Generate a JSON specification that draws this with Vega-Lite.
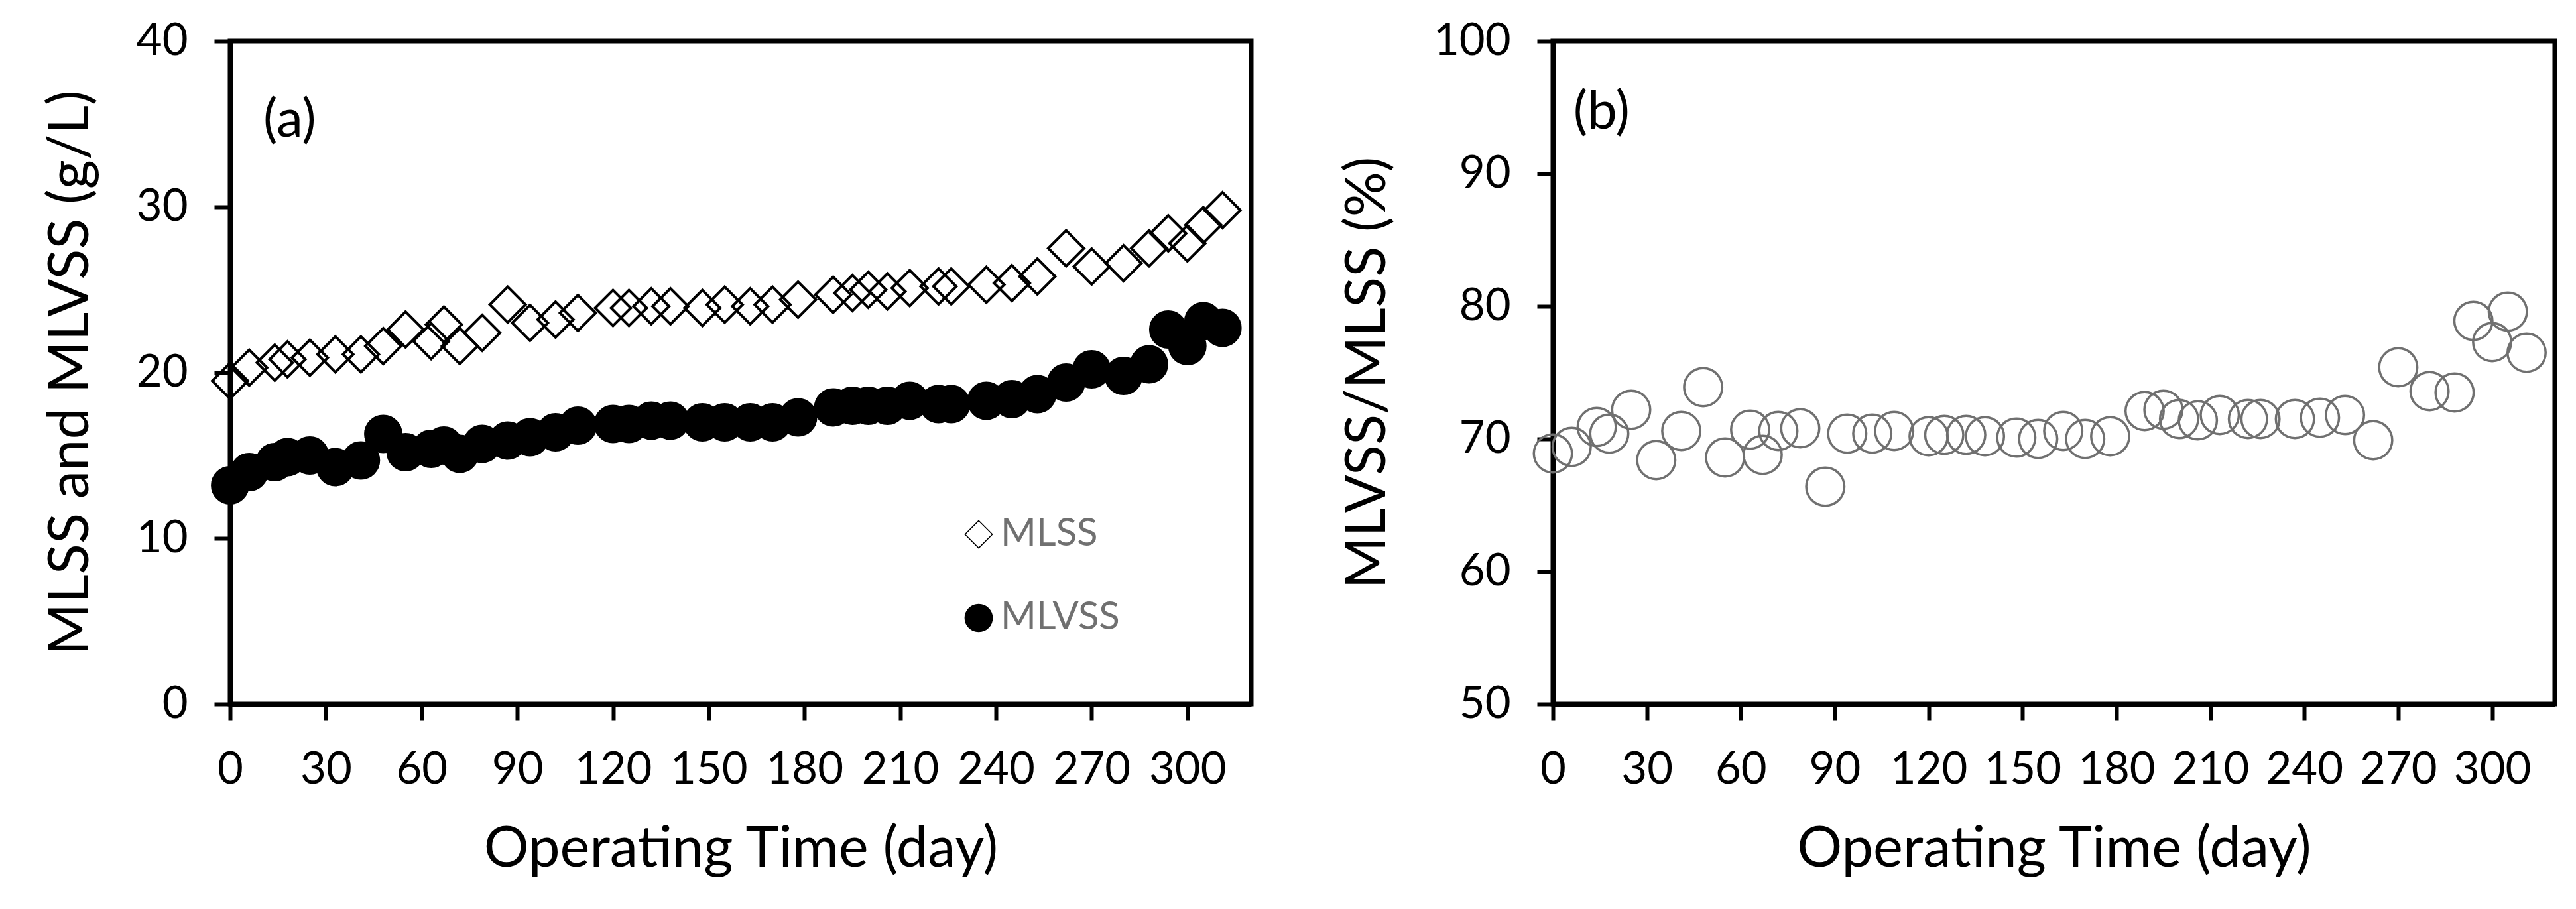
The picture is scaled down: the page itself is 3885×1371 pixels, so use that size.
{
  "$schema": "https://vega.github.io/schema/vega-lite/v6.json",
  "background": "white",
  "padding": {"left": 60, "top": 24, "right": 0, "bottom": 0},
  "spacing": 125,
  "data": {
    "values": [
      {"day": 0, "MLSS": 19.5, "MLVSS": 13.2, "ratio": 68.9},
      {"day": 6, "MLSS": 20.3, "MLVSS": 14.0, "ratio": 69.4},
      {"day": 14, "MLSS": 20.6, "MLVSS": 14.6, "ratio": 70.9},
      {"day": 18, "MLSS": 20.8, "MLVSS": 14.9, "ratio": 70.4},
      {"day": 25, "MLSS": 20.9, "MLVSS": 15.0, "ratio": 72.2},
      {"day": 33, "MLSS": 21.1, "MLVSS": 14.3, "ratio": 68.4},
      {"day": 41, "MLSS": 21.1, "MLVSS": 14.7, "ratio": 70.6},
      {"day": 48, "MLSS": 21.6, "MLVSS": 16.3, "ratio": 73.9},
      {"day": 55, "MLSS": 22.6, "MLVSS": 15.2, "ratio": 68.6},
      {"day": 63, "MLSS": 21.9, "MLVSS": 15.4, "ratio": 70.7},
      {"day": 67, "MLSS": 22.9, "MLVSS": 15.6, "ratio": 68.8},
      {"day": 72, "MLSS": 21.6, "MLVSS": 15.1, "ratio": 70.6},
      {"day": 79, "MLSS": 22.4, "MLVSS": 15.7, "ratio": 70.8},
      {"day": 87, "MLSS": 24.1, "MLVSS": 15.9, "ratio": 66.4},
      {"day": 94, "MLSS": 23.0, "MLVSS": 16.1, "ratio": 70.4},
      {"day": 102, "MLSS": 23.2, "MLVSS": 16.4, "ratio": 70.4},
      {"day": 109, "MLSS": 23.6, "MLVSS": 16.8, "ratio": 70.6},
      {"day": 120, "MLSS": 23.9, "MLVSS": 16.9, "ratio": 70.2},
      {"day": 125, "MLSS": 23.9, "MLVSS": 16.9, "ratio": 70.3},
      {"day": 132, "MLSS": 24.0, "MLVSS": 17.1, "ratio": 70.3},
      {"day": 138, "MLSS": 24.0, "MLVSS": 17.1, "ratio": 70.2},
      {"day": 148, "MLSS": 23.9, "MLVSS": 17.0, "ratio": 70.1},
      {"day": 155, "MLSS": 24.1, "MLVSS": 17.0, "ratio": 70.0},
      {"day": 163, "MLSS": 24.0, "MLVSS": 17.0, "ratio": 70.6},
      {"day": 170, "MLSS": 24.1, "MLVSS": 17.0, "ratio": 70.0},
      {"day": 178, "MLSS": 24.4, "MLVSS": 17.3, "ratio": 70.2},
      {"day": 189, "MLSS": 24.7, "MLVSS": 17.9, "ratio": 72.1},
      {"day": 195, "MLSS": 24.8, "MLVSS": 18.0, "ratio": 72.2},
      {"day": 200, "MLSS": 25.0, "MLVSS": 18.0, "ratio": 71.5},
      {"day": 206, "MLSS": 24.9, "MLVSS": 18.0, "ratio": 71.4},
      {"day": 213, "MLSS": 25.1, "MLVSS": 18.3, "ratio": 71.8},
      {"day": 222, "MLSS": 25.2, "MLVSS": 18.1, "ratio": 71.5},
      {"day": 226, "MLSS": 25.2, "MLVSS": 18.1, "ratio": 71.5},
      {"day": 237, "MLSS": 25.3, "MLVSS": 18.3, "ratio": 71.5},
      {"day": 245, "MLSS": 25.4, "MLVSS": 18.4, "ratio": 71.6},
      {"day": 253, "MLSS": 25.8, "MLVSS": 18.7, "ratio": 71.8},
      {"day": 262, "MLSS": 27.5, "MLVSS": 19.4, "ratio": 69.9},
      {"day": 270, "MLSS": 26.4, "MLVSS": 20.2, "ratio": 75.4},
      {"day": 280, "MLSS": 26.6, "MLVSS": 19.8, "ratio": 73.6},
      {"day": 288, "MLSS": 27.5, "MLVSS": 20.5, "ratio": 73.5},
      {"day": 294, "MLSS": 28.4, "MLVSS": 22.6, "ratio": 78.9},
      {"day": 300, "MLSS": 27.8, "MLVSS": 21.6, "ratio": 77.3},
      {"day": 305, "MLSS": 28.9, "MLVSS": 23.1, "ratio": 79.6},
      {"day": 311, "MLSS": 29.8, "MLVSS": 22.7, "ratio": 76.5}
    ]
  },
  "config": {
    "font": "Lato",
    "view": {"stroke": "black", "strokeWidth": 7},
    "axis": {
      "grid": false,
      "domainColor": "black",
      "domainWidth": 7,
      "tickColor": "black",
      "tickWidth": 6,
      "tickSize": 24,
      "labelFont": "Lato",
      "labelFontSize": 67,
      "labelColor": "black",
      "labelFlush": false,
      "labelOverlap": false,
      "titleFont": "Lato",
      "titleFontSize": 85,
      "titleFontWeight": "normal",
      "titleColor": "black"
    },
    "axisX": {"labelPadding": 42, "titlePadding": 45},
    "axisY": {"labelPadding": 40, "titlePadding": 55},
    "legend": {
      "orient": "none",
      "legendX": 1100,
      "legendY": 715,
      "symbolSize": 1700,
      "labelFont": "Lato",
      "labelFontSize": 58,
      "labelColor": "#707070",
      "labelOffset": 4,
      "labelLimit": 0,
      "rowPadding": 68,
      "padding": 0
    }
  },
  "hconcat": [
    {
      "width": 1540,
      "height": 1000,
      "layer": [
        {
          "transform": [{"fold": ["MLSS", "MLVSS"], "as": ["series", "value"]}],
          "mark": {"type": "point", "filled": true, "stroke": "black", "strokeWidth": 4, "size": 2900, "opacity": 1},
          "encoding": {
            "x": {
              "field": "day",
              "type": "quantitative",
              "scale": {"domain": [0, 320], "nice": false},
              "axis": {"values": [0, 30, 60, 90, 120, 150, 180, 210, 240, 270, 300], "title": "Operating Time (day)"}
            },
            "y": {
              "field": "value",
              "type": "quantitative",
              "scale": {"domain": [0, 40], "nice": false},
              "axis": {"values": [0, 10, 20, 30, 40], "title": "MLSS and MLVSS (g/L)"}
            },
            "shape": {
              "field": "series",
              "type": "nominal",
              "scale": {"domain": ["MLSS", "MLVSS"], "range": ["diamond", "circle"]},
              "legend": {
                "title": null,
                "encode": {"symbols": {"update": {"stroke": {"value": "black"}, "strokeWidth": {"value": 3}}}}
              }
            },
            "fill": {
              "field": "series",
              "type": "nominal",
              "scale": {"domain": ["MLSS", "MLVSS"], "range": ["transparent", "black"]},
              "legend": {
                "title": null,
                "encode": {"symbols": {"update": {"stroke": {"value": "black"}, "strokeWidth": {"value": 3}}}}
              }
            }
          }
        },
        {
          "data": {"values": [{"label": "(a)"}]},
          "mark": {"type": "text", "align": "left", "baseline": "middle", "fontSize": 80, "font": "Lato", "color": "black"},
          "encoding": {
            "text": {"field": "label"},
            "x": {"datum": 10.4, "type": "quantitative"},
            "y": {"datum": 35.2, "type": "quantitative"}
          }
        }
      ]
    },
    {
      "width": 1511,
      "height": 1000,
      "layer": [
        {
          "mark": {"type": "point", "shape": "circle", "filled": false, "stroke": "#707070", "strokeWidth": 3.5, "size": 3300, "opacity": 1},
          "encoding": {
            "x": {
              "field": "day",
              "type": "quantitative",
              "scale": {"domain": [0, 320], "nice": false},
              "axis": {"values": [0, 30, 60, 90, 120, 150, 180, 210, 240, 270, 300], "title": "Operating Time (day)"}
            },
            "y": {
              "field": "ratio",
              "type": "quantitative",
              "scale": {"domain": [50, 100], "nice": false, "zero": false},
              "axis": {"values": [50, 60, 70, 80, 90, 100], "title": "MLVSS/MLSS (%)"}
            }
          }
        },
        {
          "data": {"values": [{"label": "(b)"}]},
          "mark": {"type": "text", "align": "left", "baseline": "middle", "fontSize": 80, "font": "Lato", "color": "black"},
          "encoding": {
            "text": {"field": "label"},
            "x": {"datum": 6.5, "type": "quantitative"},
            "y": {"datum": 94.6, "type": "quantitative"}
          }
        }
      ]
    }
  ]
}
